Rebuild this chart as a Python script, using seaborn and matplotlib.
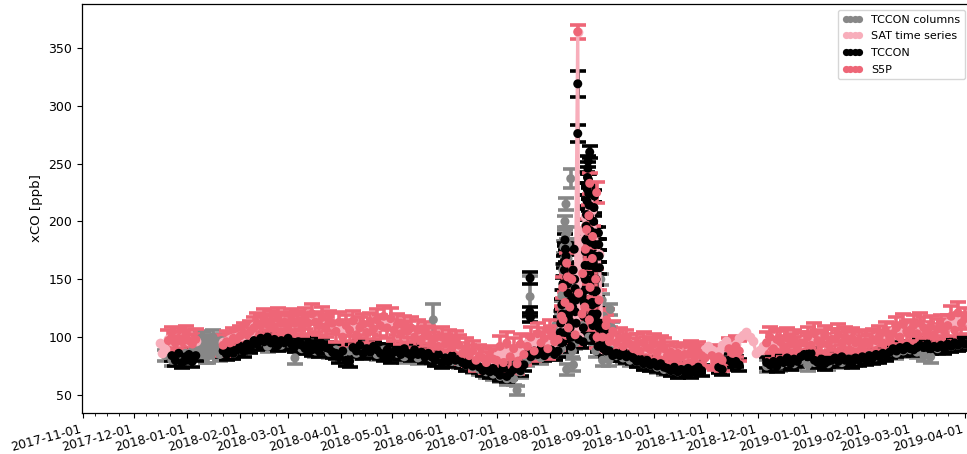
import numpy as np
import pandas as pd
import matplotlib
matplotlib.use("Agg")
import matplotlib.pyplot as plt
import matplotlib.dates as mdates
from matplotlib.lines import Line2D
import seaborn as sns

ORIGIN = pd.Timestamp("2017-11-01")
nan = np.nan

# ---------------------------------------------------------------------------
# S5P xCO [ppb], one value every 2nd day starting 48 days after ORIGIN
s5p_start, s5p_step, s5p_unc = 48, 2, 9.0
s5p_xco = [
    nan,
    97, 100, 95, 99, 96, 101, 97, 94, 98,
    nan, nan, nan, nan, nan, nan, nan,
    93, 96, 95, 99, 98, 101, 103, 102, 105,
    108, 112, 110, 115, 111, 114, 109, 116, 112, 113, 110, 115, 112, 114,
    110, 116, 112, 120, 113, 111, 117, 109, 114, 112,
    105, 113, 100, 110, 106, 114, 102, 108, 111, 104, 112, 107, 115,
    110, 118, 108, 116,
    106, 111, 103, 109, 105, 108,
    100, 106, 98, 104, 101,
    95, 99, 92, 100, 94, 97, 91, 96, 93,
    86, 90, 84, 88,
    80, 84, 82, 78, 83, 81,
    80, 92, 78, 95, 83, 90, 77, 94, 85,
    92, 100, 88, 103, 95, 99, 90, 101, 96, 98,
    118, 130, 108, 150, 102, 138, 120, 176, 205, 168, 150, 132,
    100, 110, 96, 105,
    95, 99, 92, 97, 94,
    90, 94, 88, 95, 91, 89, 94, 87, 92, 90,
    84, 87, 82, 86, 83, 85,
    85, 88, 83, 87, 84,
    82, nan, 84, 81,
    83, 80, nan,
    90, 86, 92, 88,
    nan, nan, nan, nan, nan, nan, nan,
    95, 100, 90, 98,
    96, 92, 99, 94, 97, 91, 95,
    95, 100, 93, 103, 97, 95, 101, 94, 98,
    98, 102, 95, 100, 97, 99,
    95, 97, 92, 96, 94, 98,
    97, 101, 95, 104, 99,
    103, 108, 100, 111, 105,
    106, 110, 103, 112, 108,
    104, 109, 102, 107, 110, 105,
    110, 118, 106, 121, 112, 116,
]
# additional S5P retrievals during the August 2018 fire episode
s5p_fire_day = [273.0, 280.7, 280.9, 283.0, 283.5, 284.8, 289.5, 292.4, 293.6,
                294.7, 296.5, 296.7, 296.3, 298.2, 300.6, 300.8, 306.4, 308.2]
s5p_fire_xco = [106, 143, 115, 164, 152, 126, 364, 155, 126,
                193, 233, 143, 115, 187, 225, 100, 115, 100]
s5p_fire_unc = [9, 9, 9, 9, 9, 9, 6, 9, 9,
                9, 9, 9, 9, 9, 9, 9, 9, 9]

# ---------------------------------------------------------------------------
# TCCON xCO [ppb], every 2nd day starting 48 days after ORIGIN
tccon_start, tccon_step, tccon_unc = 48, 2, 5.0
tccon_xco = [
    nan, nan,
    84, 80, 86, 78, 83, 85, 79, 84,
    nan, nan, nan, nan, nan, nan, nan,
    88, 85, 90, 86, 89, 92, 88, 94, 91,
    97, 94, 99, 96, 100, 95, 98, 93, 97, 95, 99, 94, 92, 96,
    93, 90, 95, 89, 92, 88, 94, 91, 90, 87,
    86, 83, 88, 80, 79,
    91, 88, 93, 86, 90, 87, 92, 89,
    86, 84, 89, 83, 87,
    88, 85, 90, 86, 84, 89, 85, 87, 83, 86,
    83, 80, 85, 78, 82, 79, 84, 80, 81,
    78, 76, 80, 75, 77,
    74, 71, 76, 70, 73,
    70, 67, 73, 66, 69,
    72, 75, 71, 76,
    86, 83, 88, 85, 90, 84, 87, 89, 85, 88,
    95, 104, 118, 100, 122, 98, 135, 150, 162, 128, 118, 108,
    96, 90, 88, 84,
    86, 84, 88, 83, 85,
    82, 79, 81, 77, 80, 76, 78, 75, 77, 74,
    73, 71, 74, 70, 72, 71, 73, 70, 72, 74, 71,
    nan, nan, nan, nan,
    74, 72, nan,
    80, 77, 79, 76,
    nan, nan, nan, nan, nan, nan, nan,
    78, 76, 79, 75,
    80, 78, 82, 77, 81, 79, 83,
    85, 83, 86, 80, 78, 81, 77, 79, 80,
    82, 79, 83, 80, 81, 78, 82, 80, 83, 81, 84, 82,
    85, 83, 86, 84, 87,
    90, 88, 91, 89, 92, 90, 89, 91,
    93, 91, 94, 90, 92, 91, 93, 90,
    94, 92, 95, 93, 96, 94,
]
# individual TCCON spectra in July/August 2018 (smoke plumes)
tccon_fire_day = [261.6, 261.4, 261.8,
                  279.0, 279.6, 280.2, 280.8, 281.4, 282.0, 282.6, 283.2, 283.8,
                  284.4, 285.0, 285.6, 286.2, 286.8, 287.4, 288.0, 288.6,
                  279.3, 280.5, 281.7, 282.3, 283.5, 284.1, 284.7, 285.3, 286.5,
                  287.7, 288.3,
                  289.5, 289.5,
                  292.6, 293.0, 293.4, 293.8, 294.2, 294.6, 295.0, 295.4, 295.8,
                  296.2, 296.5, 296.8, 297.2, 297.6, 298.0, 298.4, 298.8, 299.2,
                  299.6, 300.0, 300.4, 300.8, 301.2, 301.6, 302.0,
                  292.8, 293.2, 293.6, 294.0, 294.4, 294.8, 295.2, 295.6, 296.0,
                  296.4, 297.0, 297.4, 297.8, 298.2, 298.6, 299.0, 299.4, 299.8,
                  300.2, 300.6, 301.0, 301.4, 301.8, 302.2,
                  302.8, 303.6, 304.4, 305.2, 306.0]
tccon_fire_xco = [151, 122, 117,
                  96, 112, 128, 146, 165, 184, 170, 152, 138,
                  121, 108, 92, 134, 158, 176, 142, 112,
                  104, 120, 158, 176, 146, 130, 114, 100, 126,
                  150, 132,
                  319, 276,
                  96, 118, 140, 162, 184, 206, 228, 246, 236,
                  214, 260, 192, 172, 150, 130, 110, 200, 222,
                  180, 160, 140, 120, 100, 190, 170,
                  108, 130, 152, 174, 196, 218, 238, 252, 224,
                  204, 182, 162, 140, 120, 100, 212, 190, 170,
                  150, 130, 110, 92, 180, 160,
                  112, 98, 90, 105, 88]
tccon_fire_unc = [5, 4, 4] + [5] * 28 + [11, 7] + [5] * 25 + [5] * 24 + [5] * 5

# ---------------------------------------------------------------------------
# TCCON total columns, every 4th day starting 48 days after ORIGIN
col_start, col_step, col_unc = 48, 4, 5.0
col_xco = [
    84, 80, 82, 86, 88,
    92, 88, 95, 90,
    88, 86, 90, 92,
    94, 96, 92, 97, 93, 95, 82,
    90, 92, 88, 91, 87, 89, 84,
    88, 86, 90, 87, 85, 89, 84,
    86, 83, 85, 82, 84, 82,
    80, 82, 79, 78, 76, 74,
    72, 70, 68, 66, 64,
    64, 70,
    80, 84, 82, 86, 85,
    90, 120, 95, 110, 100,
    88, 80, 92,
    84, 82, 80, 79, 77,
    76, 74, 72, 71, 70, 72, 71,
    nan, nan, nan, nan, nan, nan, nan, nan, nan, nan,
    75, 77, 76,
    78, 77, 80, 76, 78, 79, 77, 80, 78, 81,
    80, 82, 84, 83, 85, 87, 86, 88, 89, 87,
    84, 83, 90, 91, 92, 93, 94,
]
col_extra_day = [66, 67, 68, 69, 70, 71, 72, 73, 74, 75, 76, 77, 78, 79, 80, 81,
                 205, 254, 261.6,
                 279.0, 279.6, 280.2, 280.8, 281.4, 282.0, 282.6, 283.2, 283.8,
                 284.4, 285.0, 285.4, 285.8, 286.4, 287.0, 283.0,
                 279.3, 280.5, 281.7, 282.3, 283.5, 284.7, 285.2,
                 303.0, 303.8, 304.6, 305.4, 306.2, 307.0, 307.8, 308.6, 309.4, 310.2]
col_extra_xco = [90, 94, 86, 99, 98, 90, 84, 84, 96, 91, 100, 88, 95, 93, 85, 97,
                 115, 54, 135,
                 96, 118, 136, 158, 178, 200, 215, 190, 168,
                 146, 124, 237, 104, 88, 76, 72,
                 106, 126, 168, 188, 180, 135, 112,
                 150, 132, 118, 104, 94, 86, 80, 124, 108, 96]
col_extra_unc = ([6] * 16 + [14, 4, 18] + [5] * 11 + [8] + [5] * 4
                 + [5] * 7 + [5] * 10)

# ---------------------------------------------------------------------------
# satellite daily time series, every 2nd day starting 48 days after ORIGIN
sat_start, sat_step = 48, 2
sat_xco = [
    90,
    98, 97, 98, 97, 99, 98, 97, 96, 97,
    nan, nan, nan, nan, nan, nan, nan,
    96, 97, 98, 99, 100, 101, 102, 103, 104,
    110, 111, 112, 112, 113, 113, 113, 113, 113, 113, 113, 113, 113, 113,
    113, 114, 114, 115, 114, 114, 113, 113, 113, 112,
    108, 108, 107, 108, 109, 108, 107, 108, 108, 108, 109, 110, 110,
    112, 113, 112, 111,
    108, 107, 107, 106, 106, 105,
    103, 102, 102, 101, 100,
    97, 97, 96, 96, 95, 95, 94, 93, 92,
    89, 88, 87, 86,
    83, 82, 82, 81, 81, 80,
    84, 85, 86, 86, 87, 87, 88, 89, 90,
    95, 96, 96, 97, 97, 97, 96, 96, 96, 96,
    108, 118, 112, 125, 104, 100, 193, 205, 220, 210, 190, 172,
    90, 100, 98, 97,
    96, 96, 95, 95, 94,
    93, 92, 92, 91, 91, 90, 90, 89, 89, 88,
    87, 87, 86, 86, 85, 85,
    86, 86, 85, 85, 86,
    90, 92, 89, 87,
    88, 93, 97,
    92, 90, 94, 99,
    102, 104, 100, 97, 86, 89, 92,
    96, 97, 96, 96,
    95, 95, 96, 95, 95, 94, 95,
    97, 97, 98, 98, 98, 98, 98, 98, 98,
    99, 99, 99, 99, 99, 98,
    96, 96, 96, 96, 96, 97,
    99, 99, 100, 101, 102,
    105, 106, 106, 107, 107,
    108, 108, 108, 109, 109,
    107, 107, 107, 107, 107, 107,
    112, 113, 113, 114, 114, 115,
]
sat_extra_day = [45.0, 46.5, 289.5]
sat_extra_xco = [95, 86, 364]

# ---------------------------------------------------------------------------
C_COL = "#878787"
C_SAT = "#f8aebb"
C_TCCON = "#000000"
C_S5P = "#ee6677"


def regular(start, step, values, unc=None):
    days = start + step * np.arange(len(values))
    df = pd.DataFrame({"day": days, "xco": np.asarray(values, float)})
    if unc is not None:
        df["unc"] = unc
    return df


def extra(days, values, unc=None):
    df = pd.DataFrame({"day": np.asarray(days, float), "xco": np.asarray(values, float)})
    if unc is not None:
        df["unc"] = np.asarray(unc, float)
    return df


def finish(df):
    df = df.sort_values("day").reset_index(drop=True)
    df["date"] = ORIGIN + pd.to_timedelta(df["day"], unit="D")
    return df


col = finish(pd.concat([regular(col_start, col_step, col_xco, col_unc),
                        extra(col_extra_day, col_extra_xco, col_extra_unc)]))
tccon = finish(pd.concat([regular(tccon_start, tccon_step, tccon_xco, tccon_unc),
                          extra(tccon_fire_day, tccon_fire_xco, tccon_fire_unc)]))
s5p = finish(pd.concat([regular(s5p_start, s5p_step, s5p_xco, s5p_unc),
                        extra(s5p_fire_day, s5p_fire_xco, s5p_fire_unc)]))
sat = finish(pd.concat([regular(sat_start, sat_step, sat_xco),
                        extra(sat_extra_day, sat_extra_xco)]))
sat["segment"] = sat["xco"].isna().cumsum()

sns.set_style("ticks")
plt.rcParams["font.family"] = ["DejaVu Sans"]
plt.rcParams["text.color"] = "black"
plt.rcParams["axes.labelcolor"] = "black"
plt.rcParams["xtick.color"] = "black"
plt.rcParams["ytick.color"] = "black"

fig = plt.figure(figsize=(9.67, 4.54), dpi=100)
ax = fig.add_axes([82 / 967, 41 / 454, 889 / 967, 409 / 454])


def errorseries(df, color, ms=42):
    d = df.dropna(subset=["xco"])
    ax.errorbar(d["date"], d["xco"], yerr=d["unc"], fmt="none", ecolor=color,
                elinewidth=2.6, capsize=6, capthick=2.6, zorder=2)
    sns.scatterplot(data=d, x="date", y="xco", color=color, s=ms,
                    edgecolor="none", linewidth=0, ax=ax, legend=False, zorder=3)


errorseries(col, C_COL)
sns.lineplot(data=sat.dropna(subset=["xco"]), x="date", y="xco", units="segment",
             estimator=None, color=C_SAT, lw=2.4, marker="o", markersize=7,
             markeredgewidth=0, ax=ax, legend=False, zorder=3)
errorseries(tccon, C_TCCON)
errorseries(s5p, C_S5P)

ax.set_xlim(ORIGIN - pd.Timedelta(hours=14), ORIGIN + pd.Timedelta(days=519.6))
ax.set_ylim(34.4, 388)
ax.set_yticks([50, 100, 150, 200, 250, 300, 350])
ax.xaxis.set_major_locator(mdates.MonthLocator())
ax.xaxis.set_minor_locator(mdates.DayLocator(bymonthday=[8, 15, 22]))
ax.xaxis.set_major_formatter(mdates.DateFormatter("%Y-%m-%d"))
ax.tick_params(axis="both", which="major", labelsize=9, length=3.5, width=0.8,
               colors="black")
ax.tick_params(axis="x", which="minor", length=2, width=0.6, colors="black")
for lab in ax.get_xticklabels():
    lab.set_rotation(15)
    lab.set_ha("right")
for sp in ax.spines.values():
    sp.set_color("black")
    sp.set_linewidth(0.9)
ax.set_xlabel("")
ax.set_ylabel("xCO [ppb]", fontsize=9.5, color="black")

handles = [Line2D([], [], ls="none", marker="o", ms=5.2, mew=0, color=c)
           for c in (C_COL, C_SAT, C_TCCON, C_S5P)]
leg = ax.legend(handles, ["TCCON columns", "SAT time series", "TCCON", "S5P"],
                loc="upper right", numpoints=4, handlelength=1.8, fontsize=8,
                frameon=True, handletextpad=0.8, labelspacing=0.6,
                borderaxespad=0.55)
for t in leg.get_texts():
    t.set_color("black")

fig.savefig("out.png", dpi=100)
